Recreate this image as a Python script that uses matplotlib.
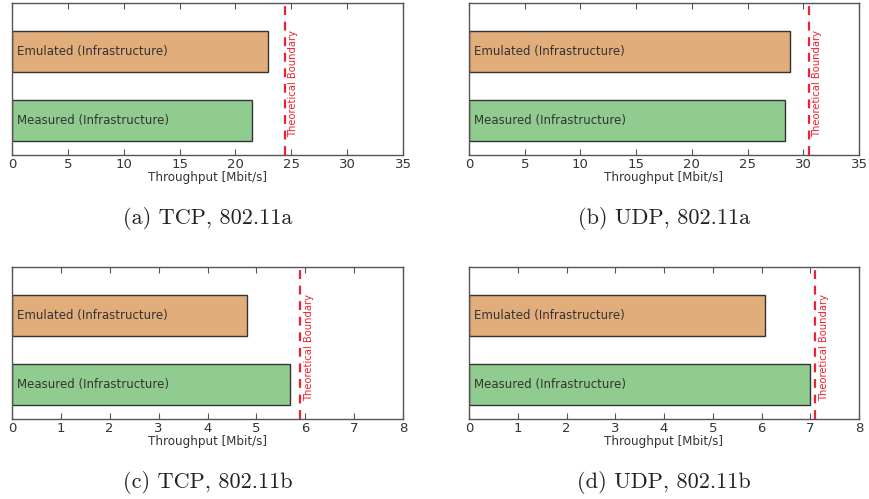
import matplotlib
matplotlib.use("Agg")
import matplotlib.pyplot as plt

# Bar labels (bottom to top)
categories = ['Measured (Infrastructure)', 'Emulated (Infrastructure)']

# Throughput values per panel [measured, emulated] in Mbit/s
tcp_a = [21.5, 22.9]
udp_a = [28.4, 28.85]
tcp_b = [5.69, 4.81]
udp_b = [7.0, 6.08]

# Theoretical boundaries
bound_tcp_a = 24.4
bound_udp_a = 30.5
bound_tcp_b = 5.9
bound_udp_b = 7.1

captions = ['(a) TCP, 802.11a', '(b) UDP, 802.11a',
            '(c) TCP, 802.11b', '(d) UDP, 802.11b']

bar_colors = ['#90cc8f', '#e1ad7a']
text_gray = '#333333'


def draw_panel(fig, rect, values, boundary, xmax, xstep, caption):
    ax = fig.add_axes(rect)
    ax.barh([0, 1], values, height=0.6, color=bar_colors,
            edgecolor='#333333', linewidth=1.0)

    # Labels inside the bars
    for y, label in zip([0, 1], categories):
        ax.text(0.012 * xmax, y, label, va='center', ha='left',
                fontsize=8.5, color=text_gray)

    # Theoretical boundary line and label
    ax.axvline(boundary, color='#ee2233', linestyle='--', linewidth=1.6,
               dashes=(4, 3))
    ax.annotate('Theoretical Boundary', xy=(boundary, 0.47),
                xycoords=('data', 'axes fraction'),
                xytext=(2.5, 0), textcoords='offset points',
                rotation=90, va='center', ha='left',
                fontsize=7.2, color='#ee2233')

    ax.set_xlim(0, xmax)
    ax.set_ylim(-0.5, 1.7)
    ax.set_xticks(range(0, xmax + 1, xstep))
    ax.set_yticks([])
    ax.tick_params(axis='x', direction='in', top=True, length=4,
                   labelsize=9.5, colors='#555555', labelcolor=text_gray,
                   pad=2)
    for s in ax.spines.values():
        s.set_color('#555555')
        s.set_linewidth(1.0)
    ax.set_xlabel('Throughput [Mbit/s]', fontsize=8.6, color=text_gray,
                  labelpad=0)

    # Sub-figure caption below the axes
    ax.text(0.5, -0.42, caption, transform=ax.transAxes, ha='center',
            va='center', fontsize=16, family='cmr10', color='#222222')
    return ax


fig = plt.figure(figsize=(8.69, 4.99), dpi=100)

w_left = 391 / 869
w_right = 390 / 869
h = 152 / 499

draw_panel(fig, [12 / 869, 1 - 155 / 499, w_left, h], tcp_a, bound_tcp_a,
           35, 5, captions[0])
draw_panel(fig, [469 / 869, 1 - 155 / 499, w_right, h], udp_a, bound_udp_a,
           35, 5, captions[1])
draw_panel(fig, [12 / 869, 1 - 419 / 499, w_left, h], tcp_b, bound_tcp_b,
           8, 1, captions[2])
draw_panel(fig, [469 / 869, 1 - 419 / 499, w_right, h], udp_b, bound_udp_b,
           8, 1, captions[3])

fig.savefig('out.png', dpi=100)
